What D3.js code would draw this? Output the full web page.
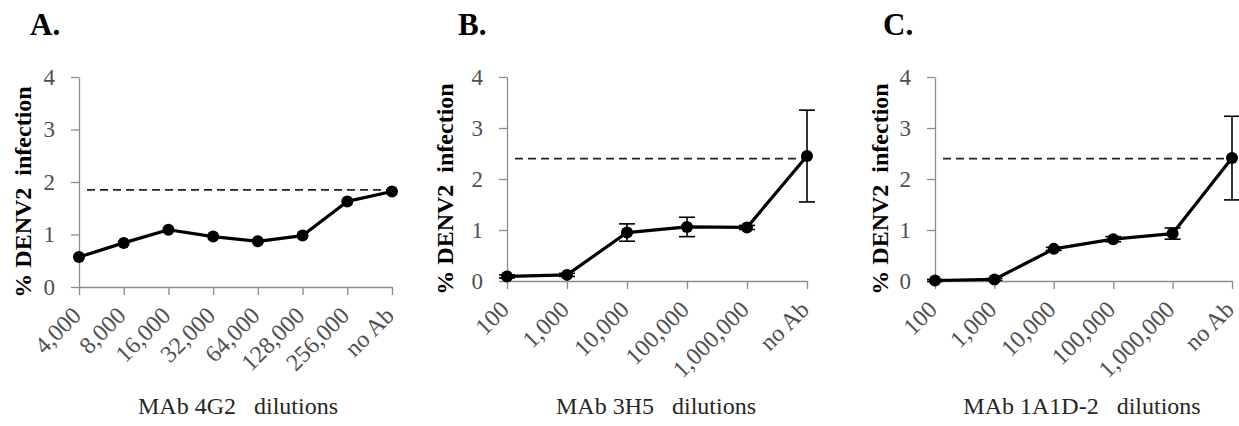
<!DOCTYPE html>
<html>
<head>
<meta charset="utf-8">
<script src="https://cdn.jsdelivr.net/npm/d3@7"></script>
<style>
  body { margin: 0; background: #fff; }
  svg { display: block; }
  text { font-family: "Liberation Serif", "Times New Roman", serif; }
</style>
</head>
<body>
<svg width="1239" height="426"></svg>
<script>
// panel A: MAb 4G2
var catsA = ["4,000", "8,000", "16,000", "32,000", "64,000", "128,000", "256,000", "no Ab"];
var valsA = [0.57, 0.84, 1.09, 0.96, 0.87, 0.98, 1.63, 1.82];
var ctrlA = 1.85;

// panels B and C share the dilution categories
var catsBC = ["100", "1,000", "10,000", "100,000", "1,000,000", "no Ab"];
var valsB = [0.09, 0.12, 0.95, 1.06, 1.05, 2.45];
var errB  = [0.03, 0.03, 0.17, 0.19, 0.04, 0.90];
var ctrlB = 2.4;

var valsC = [0.01, 0.03, 0.63, 0.82, 0.93, 2.41];
var errC  = [0.02, 0.02, 0.03, 0.05, 0.11, 0.82];
var ctrlC = 2.4;

var yTicks = [0, 1, 2, 3, 4];

var svg = d3.select("svg");

function drawPanel(p) {
  var x = d3.scalePoint().domain(p.cats).range([p.x0, p.x1]);
  var y = d3.scaleLinear().domain([0, 4]).range([p.y0, p.y1]);
  var g = svg.append("g");

  // panel letter
  g.append("text")
    .attr("x", p.letterX).attr("y", 35)
    .style("font-size", "31px").style("font-weight", "bold")
    .text(p.letter);

  // y axis
  var ya = g.append("g")
    .attr("transform", "translate(" + p.x0 + ",0)")
    .call(d3.axisLeft(y).tickValues(yTicks).tickFormat(d3.format("d"))
      .tickSize(8).tickSizeOuter(0).tickPadding(16));
  ya.selectAll("path,line").attr("stroke", "#8c8c8c").attr("stroke-width", 1.3);
  ya.selectAll("text").style("font-size", "23px").attr("fill", "#505050")
    .style("font-family", "'Liberation Serif', serif");

  // x axis
  var xa = g.append("g")
    .attr("transform", "translate(0," + p.y0 + ")")
    .call(d3.axisBottom(x).tickSize(8).tickSizeOuter(0));
  xa.selectAll("path,line").attr("stroke", "#8c8c8c").attr("stroke-width", 1.3);
  xa.selectAll("text")
    .style("font-size", "24px").attr("fill", "#505050")
    .style("font-family", "'Liberation Serif', serif")
    .style("text-anchor", "end")
    .attr("x", 0).attr("y", 0).attr("dy", 0)
    .attr("transform", "translate(3,30) rotate(-45)");

  // titles
  g.append("text")
    .attr("transform", "translate(" + p.yTitleX + "," + ((p.y0 + p.y1) / 2 + 10) + ") rotate(-90)")
    .attr("text-anchor", "middle")
    .style("font-size", "24px").style("font-weight", "bold")
    .style("white-space", "pre")
    .text("% DENV2  infection");

  g.append("text")
    .attr("x", p.xTitleX).attr("y", 414)
    .attr("text-anchor", "middle")
    .style("font-size", "24px").attr("fill", "#262626")
    .style("white-space", "pre")
    .text(p.xTitle);

  // control (no Ab) reference line
  g.append("line")
    .attr("x1", p.x0 + 8).attr("x2", p.x1)
    .attr("y1", y(p.ctrl)).attr("y2", y(p.ctrl))
    .attr("stroke", "#222").attr("stroke-width", 1.7)
    .attr("stroke-dasharray", "8,5");

  var pts = p.cats.map(function(c, i) { return { c: c, v: p.vals[i], e: p.errs ? p.errs[i] : 0 }; });

  // error bars
  if (p.errs) {
    var eb = g.selectAll(".eb").data(pts).enter().append("g").attr("class", "eb");
    eb.append("line")
      .attr("x1", function(d) { return x(d.c); }).attr("x2", function(d) { return x(d.c); })
      .attr("y1", function(d) { return y(d.v - d.e); }).attr("y2", function(d) { return y(d.v + d.e); })
      .attr("stroke", "#000").attr("stroke-width", 1.6);
    [-1, 1].forEach(function(s) {
      eb.append("line")
        .attr("x1", function(d) { return x(d.c) - 8; }).attr("x2", function(d) { return x(d.c) + 8; })
        .attr("y1", function(d) { return y(d.v + s * d.e); }).attr("y2", function(d) { return y(d.v + s * d.e); })
        .attr("stroke", "#000").attr("stroke-width", 1.6);
    });
  }

  var line = d3.line()
    .x(function(d) { return x(d.c); })
    .y(function(d) { return y(d.v); });

  g.append("path")
    .datum(pts)
    .attr("fill", "none")
    .attr("stroke", "#000")
    .attr("stroke-width", 3.2)
    .attr("stroke-linejoin", "round")
    .attr("d", line);

  g.selectAll(".dot").data(pts).enter().append("circle")
    .attr("cx", function(d) { return x(d.c); })
    .attr("cy", function(d) { return y(d.v); })
    .attr("r", 6)
    .attr("fill", "#000");
}

drawPanel({ letter: "A.", letterX: 30, cats: catsA, vals: valsA, errs: null, ctrl: ctrlA,
  x0: 79, x1: 392, y0: 287, y1: 77, yTitleX: 31, xTitleX: 238, xTitle: "MAb 4G2   dilutions" });
drawPanel({ letter: "B.", letterX: 458, cats: catsBC, vals: valsB, errs: errB, ctrl: ctrlB,
  x0: 507, x1: 807, y0: 281, y1: 77, yTitleX: 453, xTitleX: 656, xTitle: "MAb 3H5   dilutions" });
drawPanel({ letter: "C.", letterX: 883, cats: catsBC, vals: valsC, errs: errC, ctrl: ctrlC,
  x0: 935, x1: 1232, y0: 281, y1: 77, yTitleX: 888, xTitleX: 1082, xTitle: "MAb 1A1D-2   dilutions" });
</script>
</body>
</html>
